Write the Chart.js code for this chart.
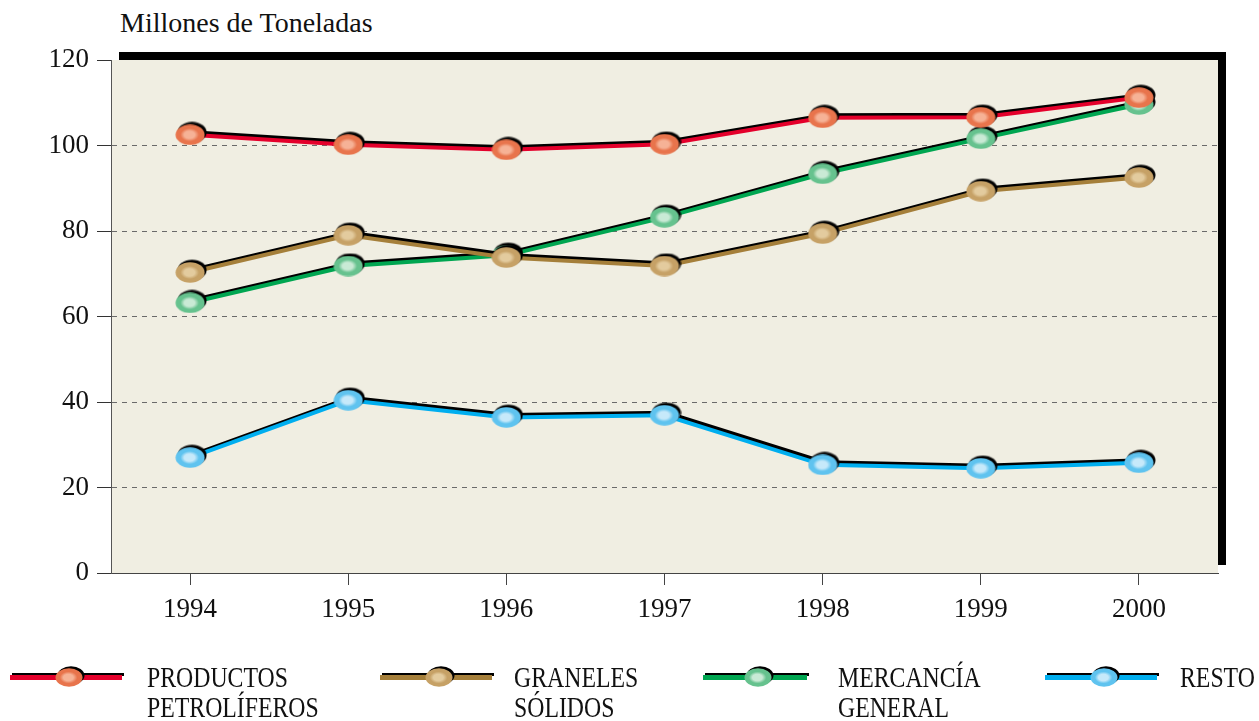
<!DOCTYPE html>
<html>
<head>
<meta charset="utf-8">
<script src="https://cdn.jsdelivr.net/npm/chart.js@4/dist/chart.umd.min.js"></script>
<style>
body{margin:0;background:#fff;width:1259px;height:721px;overflow:hidden;position:relative;font-family:"Liberation Serif",serif;}
#wrap{position:absolute;left:0;top:0;width:1259px;height:640px;}
#title{position:absolute;left:120px;top:7px;font-size:28px;color:#111;}
.leg{position:absolute;top:660px;height:60px;}
.leg .ln{position:absolute;top:15px;height:5px;}
.leg .sh{position:absolute;top:13px;height:3px;background:#000;}
.leg img{position:absolute;top:8px;filter:drop-shadow(2px -2px 0 #000);}
.leg .tx{position:absolute;top:2px;font-size:29px;line-height:30px;color:#111;white-space:nowrap;transform:scaleX(0.82);transform-origin:0 0;}
</style>
</head>
<body>
<div id="title">Millones de Toneladas</div>
<div id="wrap"><canvas id="lineChart" width="1259" height="640"></canvas></div>
<div id="legend"></div>
<script>
var years = ["1994","1995","1996","1997","1998","1999","2000"];
var productos = [102.5, 100.2, 99.0, 100.3, 106.5, 106.6, 111.2];
var graneles = [70.3, 79.0, 73.8, 71.8, 79.4, 89.3, 92.5];
var mercancia = [63.2, 71.8, 74.3, 83.2, 93.4, 101.6, 109.6];
var resto = [27.0, 40.4, 36.4, 36.9, 25.3, 24.5, 25.8];
var seriesNames = [["PRODUCTOS","PETROLÍFEROS"],["GRANELES","SÓLIDOS"],["MERCANCÍA","GENERAL"],["RESTO"]];
var yTicks = [0,20,40,60,80,100,120];

var colors = {
	red: '#e4002b',
	brown: '#a57f3a',
	green: '#00a651',
	blue: '#00aeef'
};

// ellipse marker with a light spot in the middle
function marker(outer, inner, w, h){
	var c = document.createElement('canvas');
	c.width = w; c.height = h;
	var ctx = c.getContext('2d');
	ctx.save();
	ctx.translate(w/2, h/2);
	ctx.scale(1, h/w);
	var g = ctx.createRadialGradient(-1, 0, 0, 0, 0, w/2);
	g.addColorStop(0, inner);
	g.addColorStop(0.35, inner);
	g.addColorStop(0.62, outer);
	g.addColorStop(1, outer);
	ctx.fillStyle = g;
	ctx.beginPath();
	ctx.arc(0, 0, w/2 - 0.5, 0, Math.PI*2);
	ctx.fill();
	ctx.restore();
	return c;
}

var markerColors = [
	['#e8744c', '#f6b296'],
	['#c6a166', '#e3cb9e'],
	['#66c28e', '#c9ead5'],
	['#5fc3ef', '#c6e9fa']
];
var markers = markerColors.map(function(m){ return marker(m[0], m[1], 30, 21); });
var legMarkers = markerColors.map(function(m){ return marker(m[0], m[1], 28, 19); });
var lineColors = [colors.red, colors.brown, colors.green, colors.blue];

var frame = {
	id: 'frame',
	beforeDraw: function(chart){
		var a = chart.chartArea, ctx = chart.ctx;
		ctx.save();
		ctx.fillStyle = '#000';
		ctx.fillRect(a.left + 8, a.top - 8, a.right - a.left, a.bottom - a.top);
		ctx.fillStyle = '#f0eee2';
		ctx.fillRect(a.left, a.top, a.right - a.left, a.bottom - a.top);
		ctx.restore();
	},
	beforeDatasetDraw: function(chart){
		var ctx = chart.ctx;
		ctx.save();
		ctx.shadowColor = '#000';
		ctx.shadowOffsetX = 2;
		ctx.shadowOffsetY = -2.5;
		ctx.shadowBlur = 0;
	},
	afterDatasetDraw: function(chart){
		chart.ctx.restore();
	}
};

function ds(label, data, i){
	return {
		label: label,
		data: data,
		borderColor: lineColors[i],
		backgroundColor: lineColors[i],
		borderWidth: 4,
		tension: 0,
		pointStyle: markers[i],
		pointRadius: 12,
		fill: false
	};
}

var data = {
	labels: years,
	datasets: [
		ds(seriesNames[0].join(' '), productos, 0),
		ds(seriesNames[1].join(' '), graneles, 1),
		ds(seriesNames[2].join(' '), mercancia, 2),
		ds(seriesNames[3].join(' '), resto, 3)
	]
};

var tickFont = {family: '"Liberation Serif", serif', size: 27};

new Chart(document.getElementById('lineChart').getContext('2d'), {
	type: 'line',
	data: data,
	plugins: [frame],
	options: {
		responsive: false,
		animation: false,
		events: [],
		layout: {padding: {top: 60, right: 41, left: 0, bottom: 0}},
		plugins: {legend: {display: false}, tooltip: {enabled: false}},
		scales: {
			x: {
				offset: true,
				afterFit: function(s){ s.height = 67; },
				grid: {offset: false, drawOnChartArea: false, tickLength: 12, tickColor: '#444', color: '#444'},
				border: {color: '#444', width: 1},
				ticks: {color: '#111', font: tickFont, padding: 9, maxRotation: 0}
			},
			y: {
				min: 0,
				max: 120,
				afterFit: function(s){ s.width = 111; },
				afterBuildTicks: function(s){ s.ticks = yTicks.map(function(v){ return {value: v}; }); },
				grid: {
					tickLength: 14,
					color: function(c){ return (c.tick && (c.tick.value === 0 || c.tick.value === 120)) ? 'rgba(0,0,0,0)' : '#6a6a6a'; },
					tickColor: '#333',
					tickBorderDash: []
				},
				border: {color: '#555', width: 1, dash: [5, 5]},
				ticks: {color: '#111', font: tickFont, padding: 8}
			}
		}
	}
});

// legend below the chart
var legPos = [
	{x: 10, w: 112, t: 147},
	{x: 380, w: 112, t: 514},
	{x: 703, w: 104, t: 838},
	{x: 1045, w: 112, t: 1180}
];
var leg = document.getElementById('legend');
for (var i = 0; i < seriesNames.length; i++) {
	var p = legPos[i];
	var d = document.createElement('div');
	d.className = 'leg';
	d.style.left = p.x + 'px';
	d.style.width = '260px';
	d.innerHTML = '<div class="sh" style="left:2px;width:' + p.w + 'px"></div>' +
		'<div class="ln" style="left:0;width:' + p.w + 'px;background:' + lineColors[i] + '"></div>' +
		'<img src="' + legMarkers[i].toDataURL() + '" style="left:' + (p.w/2 + 3 - 14) + 'px">' +
		'<div class="tx" style="left:' + (p.t - p.x) + 'px">' + seriesNames[i].join('<br>') + '</div>';
	leg.appendChild(d);
}
</script>
</body>
</html>
